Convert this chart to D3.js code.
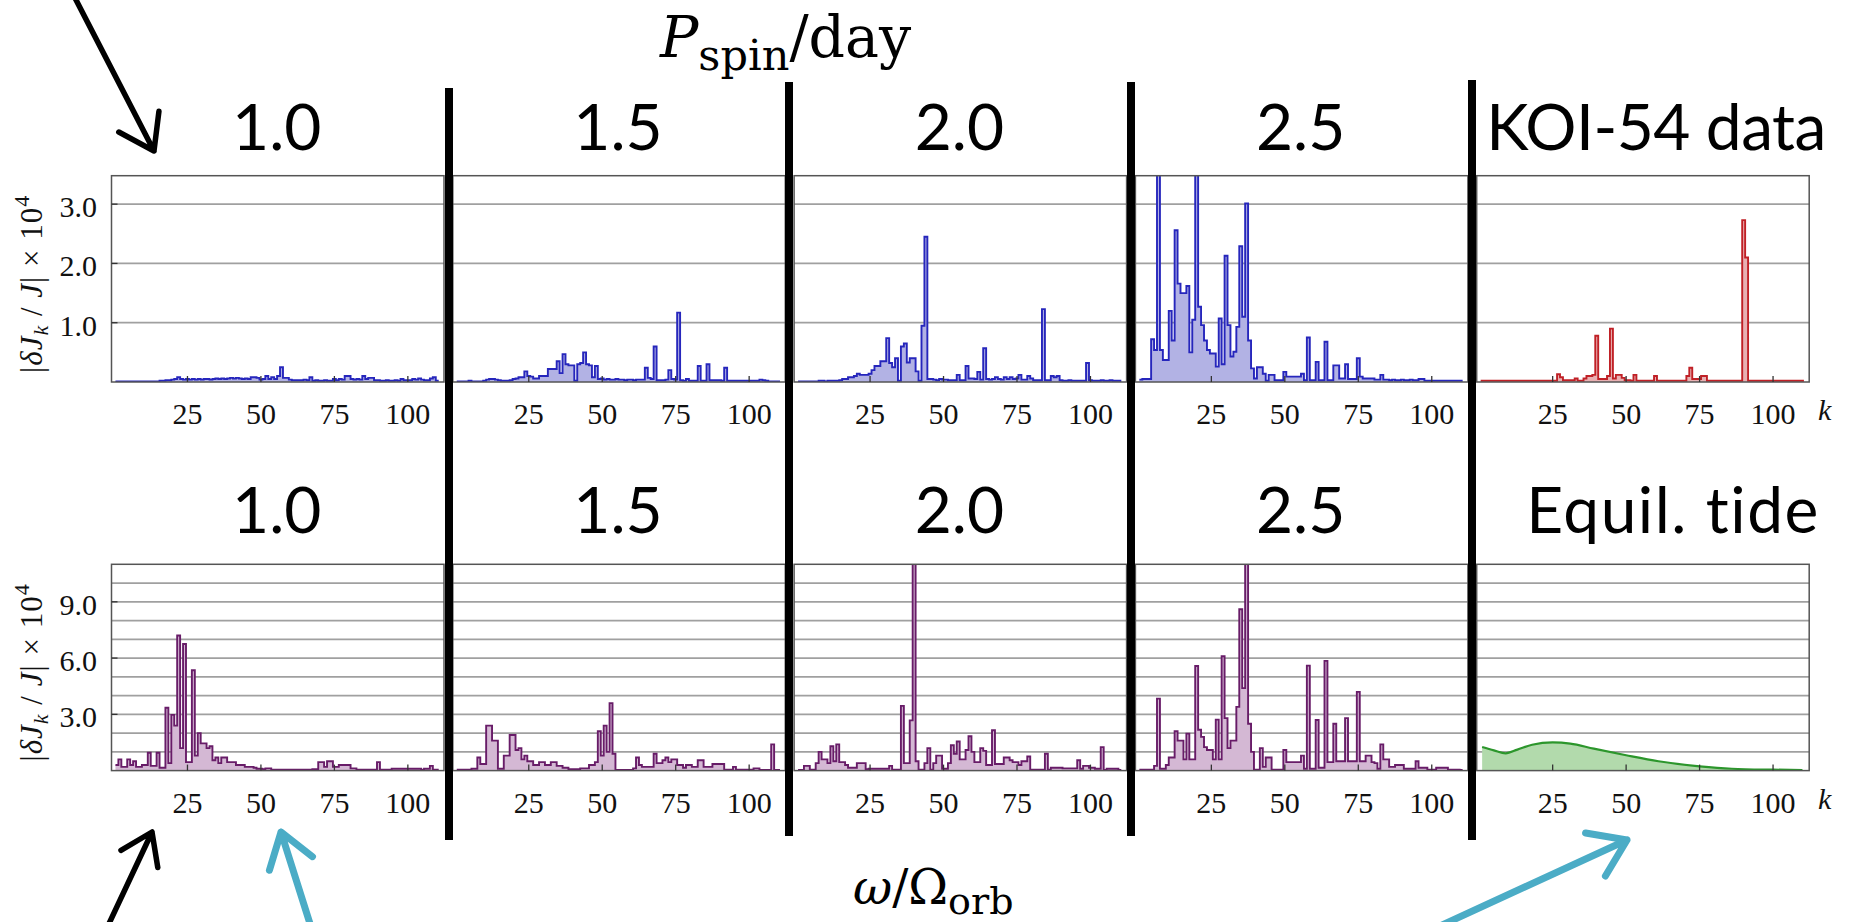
<!DOCTYPE html>
<html><head><meta charset="utf-8">
<script src="https://cdn.jsdelivr.net/npm/d3@7"></script>
<style>body{margin:0;background:#fff}svg{display:block}</style>
</head><body>
<svg id="c" width="1858" height="922"></svg>
<script>
// ---------------- data ----------------
const kTicks = [25, 50, 75, 100];
const spinLabels = ["1.0", "1.5", "2.0", "2.5"];
const topRightLabel = "KOI-54 data";
const bottomRightLabel = "Equil. tide";
const topYTicks = [1, 2, 3];
const topYTickLabels = ["1.0", "2.0", "3.0"];
const botYTicks = [3, 6, 9];
const botYTickLabels = ["3.0", "6.0", "9.0"];
const topGrid = [1, 2, 3];
const botGrid = [1, 2, 3, 4, 5, 6, 7, 8, 9, 10];

// |dJ_k/J| x 1e4 for k = 1..110 (top row: model, P_spin = 1.0,1.5,2.0,2.5 d)
const topP10 = [0.01,0.01,0.01,0.01,0.01,0.01,0.01,0.01,0.01,0.01,0.01,0.01,0.01,0.01,0.01,
0.02,0.02,0.03,0.03,0.04,0.05,0.08,0.05,0.04,0.05,0.04,0.05,0.04,0.05,0.04,0.05,0.05,0.04,0.05,0.06,
0.05,0.06,0.05,0.06,0.07,0.06,0.07,0.06,0.05,0.06,0.05,0.08,0.08,0.07,0.04,0.05,0.1,0.05,0.08,0.05,
0.1,0.25,0.07,0.07,0.04,0.03,0.03,0.03,0.03,0.04,0.03,0.08,0.02,0.03,0.02,0.02,0.03,0.02,0.02,0.05,
0.03,0.05,0.04,0.1,0.1,0.05,0.04,0.05,0.04,0.1,0.05,0.07,0.07,0.03,0.03,0.02,0.02,0.03,0.02,0.02,
0.03,0.02,0.05,0.03,0.03,0.03,0.05,0.04,0.06,0.04,0.03,0.03,0.06,0.08,0.02];
const topP15 = [0.01,0.01,0.01,0.01,0.02,0.01,0.01,0.01,0.01,0.02,0.04,0.05,0.05,0.04,0.03,
0.02,0.02,0.02,0.03,0.05,0.06,0.08,0.08,0.18,0.1,0.09,0.06,0.06,0.1,0.1,0.1,0.22,0.22,0.22,0.35,
0.15,0.47,0.3,0.28,0.28,0.02,0.3,0.32,0.5,0.3,0.28,0.08,0.27,0.05,0.06,
0.04,0.05,0.04,0.04,0.05,0.04,0.04,0.03,0.04,0.04,0.03,0.04,0.04,0.04,
0.24,0.07,0.05,0.6,0.03,0.03,0.03,0.04,0.2,0.05,0.04,1.17,0.03,0.02,0.05,0.02,0.02,0.02,0.27,0.02,
0.02,0.3,0.03,0.03,0.03,0.03,0.02,0.24,0.02,0.02,0.02,0.02,0.02,0.02,0.02,0.02,0.02,0.02,0.02,0.04,
0.03,0.02,0.01,0.01,0.01,0.01];
const topP20 = [0.01,0.01,0.01,0.01,0.01,0.01,0.01,0.02,0.02,0.01,0.02,0.02,0.02,0.02,0.03,
0.05,0.05,0.08,0.08,0.1,0.14,0.12,0.12,0.12,0.14,0.2,0.27,0.27,0.35,0.35,0.74,0.32,0.25,0.4,0.02,
0.6,0.65,0.33,0.4,0.4,0.18,0.02,0.95,2.45,0.05,0.05,0.04,0.03,0.05,0.04,0.04,0.03,0.03,0.03,0.12,
0.03,0.03,0.27,0.06,0.06,0.05,0.17,0.04,0.57,0.05,0.04,0.05,0.08,0.05,0.04,0.08,0.05,0.08,0.05,0.06,
0.12,0.04,0.04,0.1,0.06,0.03,0.03,0.03,1.23,0.03,0.03,0.1,0.08,0.1,0.03,
0.02,0.02,0.03,0.02,0.02,0.02,0.02,0.02,0.32,0.03,
0.02,0.02,0.02,0.03,0.02,0.02,0.03,0.02,0.02,0.02];
const topP25 = [0.04,0.05,0.05,0.05,0.72,0.54,4.0,0.54,0.37,0.37,1.2,0.7,2.56,1.66,1.5,
1.5,1.62,0.5,1.05,4.0,1.27,0.96,0.7,0.54,0.48,0.48,0.26,1.07,0.3,2.13,0.96,0.43,0.51,0.93,2.29,
1.1,3.01,0.7,0.23,0.06,0.25,0.25,0.14,0.02,0.12,0.12,0.03,0.03,0.03,0.17,0.09,0.09,0.09,0.09,0.09,
0.14,0.03,0.75,0.03,0.03,0.34,0.03,0.03,0.68,0.03,0.03,0.28,0.28,0.06,0.06,0.3,0.05,0.05,0.05,0.4,
0.09,0.06,0.06,0.06,0.06,0.04,0.04,0.12,0.04,0.04,0.03,0.04,0.03,0.03,0.04,0.03,0.03,0.04,0.03,0.03,
0.05,0.05,0.02,0.02,0.02,0.02,0.02,0.02,0.02,0.02,0.02,0.02,0.02,0.02,0.02];
// observed KOI-54
const topKOI = [0.02,0.02,0.02,0.02,0.02,0.02,0.02,0.02,0.02,0.02,0.02,0.02,0.02,0.02,0.02,
0.02,0.02,0.02,0.02,0.02,0.02,0.02,0.02,0.02,0.02,0.02,
0.13,0.08,0.03,0.03,0.03,0.03,0.06,0.02,0.02,0.06,0.1,0.1,0.12,0.78,0.05,0.05,0.05,0.1,0.9,
0.06,0.12,0.12,0.07,0.03,0.03,0.02,0.12,0.02,0.02,0.02,0.02,0.02,0.02,0.1,
0.02,0.02,0.02,0.02,0.02,0.02,0.02,0.02,0.02,0.02,0.1,0.24,0.05,0.05,0.05,0.1,0.1,
0.02,0.02,0.02,0.02,0.02,0.02,0.02,0.02,0.02,0.02,0.02,0.02,2.73,2.1,
0.02,0.02,0.02,0.02,0.02,0.02,0.02,0.02,0.02,0.02,0.02,0.02,0.02,0.02,0.02,0.02,0.02,0.02,0.02];

// bottom row
const botP10 = [0.3,0.6,0.2,0.2,0.6,0.3,0.5,0.2,0.2,0.3,0.3,0.95,0.25,0.25,0.95,
0.15,0.15,3.35,0.4,2.97,2.4,7.2,1.2,6.75,0.45,0.45,5.35,0.8,2.0,1.45,1.45,1.2,1.3,0.55,0.7,
0.4,0.7,0.7,0.45,0.45,0.45,0.3,0.3,0.3,0.2,0.2,0.2,0.15,0.1,0.1,0.08,0.12,0.12,
0.05,0.05,0.05,0.05,0.05,0.05,0.05,0.05,0.05,0.05,0.05,0.05,0.05,0.05,
0.08,0.08,0.45,0.45,0.2,0.5,0.5,0.2,0.2,0.3,0.3,0.3,0.3,0.12,0.12,
0.05,0.05,0.05,0.05,0.05,0.05,0.05,0.45,0.05,0.05,0.05,0.05,
0.1,0.1,0.1,0.1,0.1,0.1,0.1,0.1,0.1,0.1,0.05,0.1,0.1,0.25,0.05,0.05];
const botP15 = [0.05,0.05,0.05,0.05,0.05,0.1,0.1,0.7,0.35,0.35,2.4,2.4,1.6,1.6,0.1,
0.1,0.8,0.8,1.9,1.9,1.1,1.2,0.6,0.8,0.5,0.5,0.3,0.3,0.45,0.45,0.3,0.3,0.45,0.45,0.25,
0.25,0.15,0.15,0.07,0.07,0.07,0.07,0.12,0.12,0.12,0.3,0.3,0.45,2.1,0.8,2.4,1.0,3.6,0.9,0.03,
0.03,0.03,0.03,0.03,0.03,0.12,0.7,0.3,0.2,0.2,0.2,0.2,0.9,0.4,0.4,0.55,0.7,0.45,0.6,0.6,
0.3,0.3,0.15,0.3,0.3,0.2,0.2,0.55,0.55,0.2,0.2,0.2,0.35,0.35,0.35,0.35,0.05,0.05,0.05,0.2,
0.05,0.05,0.05,0.05,0.05,0.05,0.12,0.12,0.03,0.03,0.03,0.03,1.4,0.03,0.03];
const botP20 = [0.03,0.03,0.25,0.25,0.05,0.05,0.4,1.0,0.6,0.6,0.4,1.3,0.5,1.4,0.45,
0.45,0.3,0.15,0.15,0.15,0.4,0.4,0.4,0.08,0.1,0.1,0.1,0.1,0.1,0.1,0.1,0.25,0.05,0.05,0.05,
3.45,0.4,0.4,2.68,11.5,0.5,0.05,0.05,0.4,1.2,0.05,0.4,0.8,0.8,0.1,0.1,0.4,1.35,0.9,1.55,
0.6,0.6,1.1,1.83,1.0,0.45,0.45,1.2,1.05,0.3,0.3,2.15,0.35,0.35,0.35,0.7,0.7,0.55,0.45,0.45,
0.3,0.5,0.5,0.75,0.05,0.05,0.05,0.05,0.05,0.9,0.05,0.15,0.15,0.15,0.15,0.12,0.12,0.12,0.12,0.12,
0.55,0.1,0.25,0.25,0.15,0.15,0.1,0.1,1.25,0.03,0.1,0.1,0.1,0.1,0.03];
const botP25 = [0.05,0.05,0.05,0.05,0.05,0.25,3.84,0.1,0.1,0.3,0.7,0.7,2.1,1.6,1.6,
0.6,1.97,0.6,0.6,5.58,2.18,1.8,1.25,1.1,1.1,0.6,2.72,0.6,6.1,2.8,1.2,1.6,1.6,3.4,8.6,
4.4,11.5,2.5,1.0,0.05,0.05,1.2,0.2,0.7,0.7,0.05,0.05,0.05,0.05,1.1,0.45,0.45,0.45,0.45,0.45,
0.8,0.1,5.6,0.1,0.1,2.7,0.15,0.15,5.85,0.45,0.45,2.5,0.5,0.5,0.5,2.8,0.5,0.5,0.5,4.2,
0.5,0.5,0.8,0.8,0.45,0.4,0.1,1.4,0.6,0.6,0.2,0.2,0.3,0.3,0.3,0.1,0.1,0.1,0.1,0.5,
0.15,0.15,0.15,0.05,0.05,0.05,0.15,0.15,0.15,0.15,0.05,0.05,0.05,0.05,0.03];
// equilibrium tide: sampled points [k, value]
const equilK = [1, 5, 9, 13, 18, 25, 31, 39, 50, 61, 75, 86, 100, 110];
const equilV = [1.26, 1.08, 0.92, 1.12, 1.38, 1.5, 1.44, 1.17, 0.82, 0.5, 0.23, 0.1, 0.05, 0.03];

// ---------------- drawing ----------------
const svg = d3.select("#c");
const defs = svg.append("defs");
const COL = {
  blue:   {s: "rgb(38,38,188)",  f: "rgb(178,178,228)"},
  red:    {s: "rgb(192,32,38)",  f: "rgb(232,176,178)"},
  purple: {s: "rgb(104,28,104)", f: "rgb(212,184,212)"},
  green:  {s: "rgb(44,150,44)",  f: "rgb(178,218,172)"}
};
const panelLeft = i => 111.5 + 341.3 * i;
const panelW = 332.5;
const rows = [
  {top: 175.7, zero: 382, max: 3.48, grid: topGrid, yt: topYTicks, ytl: topYTickLabels,
   series: [topP10, topP15, topP20, topP25, topKOI], cols: ["blue","blue","blue","blue","red"],
   tickBase: 424, kBase: 420},
  {top: 564.3, zero: 770.6, max: 11, grid: botGrid, yt: botYTicks, ytl: botYTickLabels,
   series: [botP10, botP15, botP20, botP25, null], cols: ["purple","purple","purple","purple","green"],
   tickBase: 813, kBase: 809}
];
const serif = "'Liberation Serif', 'Times New Roman', serif";
const sans = "Lato, 'Open Sans', sans-serif";

rows.forEach((row, r) => {
  const y = d3.scaleLinear().domain([0, row.max]).range([row.zero, row.top]);
  for (let i = 0; i < 5; i++) {
    const x = d3.scaleLinear().domain([-0.85, 112.3]).range([panelLeft(i), panelLeft(i) + panelW]);
    const g = svg.append("g");
    const cid = `clip${r}${i}`;
    defs.append("clipPath").attr("id", cid).append("rect")
      .attr("x", x(-0.85)).attr("y", row.top).attr("width", panelW).attr("height", row.zero - row.top);
    g.selectAll("line.grid").data(row.grid).join("line")
      .attr("x1", x(-0.85)).attr("x2", x(112.3))
      .attr("y1", d => y(d)).attr("y2", d => y(d))
      .attr("stroke", "#a0a0a0").attr("stroke-width", 1.7);
    const c = COL[row.cols[i]];
    const dg = g.append("g").attr("clip-path", `url(#${cid})`);
    if (row.series[i]) {
      const vals = row.series[i];
      const pts = vals.map((v, j) => [j + 1 - 0.5, v]);
      pts.push([vals.length + 0.5, vals[vals.length - 1]]);
      const area = d3.area().x(d => x(d[0])).y0(y(0)).y1(d => y(d[1])).curve(d3.curveStepAfter);
      const line = d3.line().x(d => x(d[0])).y(d => y(d[1])).curve(d3.curveStepAfter);
      dg.append("path").attr("d", area(pts)).attr("fill", c.f);
      dg.append("path").attr("d", line(pts)).attr("fill", "none").attr("stroke", c.s).attr("stroke-width", 1.9);
    } else {
      const pts = equilK.map((k, j) => [k, equilV[j]]);
      const area = d3.area().x(d => x(d[0])).y0(y(0)).y1(d => y(d[1])).curve(d3.curveMonotoneX);
      const line = d3.line().x(d => x(d[0])).y(d => y(d[1])).curve(d3.curveMonotoneX);
      dg.append("path").attr("d", area(pts)).attr("fill", c.f);
      dg.append("path").attr("d", line(pts)).attr("fill", "none").attr("stroke", c.s).attr("stroke-width", 2.2);
    }
    g.append("rect").attr("x", x(-0.85)).attr("y", row.top).attr("width", panelW).attr("height", row.zero - row.top)
      .attr("fill", "none").attr("stroke", "#555").attr("stroke-width", 1.5);
    g.selectAll("line.xt").data(kTicks).join("line")
      .attr("x1", d => x(d)).attr("x2", d => x(d)).attr("y1", row.zero).attr("y2", row.zero - 6)
      .attr("stroke", "#333").attr("stroke-width", 1.3);
    g.selectAll("text.xt").data(kTicks).join("text")
      .attr("x", d => x(d)).attr("y", row.tickBase).attr("text-anchor", "middle")
      .attr("font-family", serif).attr("font-size", 30).attr("fill", "#111").text(d => d);
    if (i === 0) {
      g.selectAll("line.yt").data(row.yt).join("line")
        .attr("x1", x(-0.85)).attr("x2", x(-0.85) + 6).attr("y1", d => y(d)).attr("y2", d => y(d))
        .attr("stroke", "#333").attr("stroke-width", 1.3);
      g.selectAll("text.yt").data(row.yt).join("text")
        .attr("x", 97).attr("y", d => y(d) + 13).attr("text-anchor", "end")
        .attr("font-family", serif).attr("font-size", 30).attr("fill", "#111")
        .text((d, j) => row.ytl[j]);
      const yc = (row.top + row.zero) / 2 + 5;
      const t = svg.append("text").attr("transform", `translate(42,${yc}) rotate(-90)`)
        .attr("text-anchor", "middle").attr("font-family", serif).attr("font-size", 31)
        .attr("letter-spacing", 1).attr("fill", "#111");
      t.append("tspan").text("|");
      t.append("tspan").attr("font-style", "italic").text("δJ");
      t.append("tspan").attr("font-style", "italic").attr("font-size", 22).attr("dy", 6).text("k");
      t.append("tspan").attr("dy", -6).text(" / ");
      t.append("tspan").attr("font-style", "italic").text("J");
      t.append("tspan").text("| × 10");
      t.append("tspan").attr("font-size", 22).attr("dy", -13).text("4");
    }
    if (i === 4) {
      svg.append("text").attr("x", 1818).attr("y", row.kBase).attr("font-family", serif)
        .attr("font-style", "italic").attr("font-size", 30).attr("fill", "#111").text("k");
    }
  }
  const hy = r === 0 ? 150 : 533;
  spinLabels.forEach((s, i) => {
    svg.append("text").attr("x", panelLeft(i) + panelW / 2 - 1).attr("y", hy).attr("text-anchor", "middle")
      .attr("font-family", sans).attr("font-weight", 400).attr("font-size", 64).attr("fill", "#000").text(s);
  });
  svg.append("text").attr("x", r === 0 ? 1656 : 1673).attr("y", hy).attr("text-anchor", "middle")
    .attr("font-family", sans).attr("font-weight", 400).attr("font-size", 64)
    .attr("letter-spacing", r === 0 ? -0.5 : 1.5).attr("fill", "#000")
    .text(r === 0 ? topRightLabel : bottomRightLabel);
});

// separators
const sepX = [449, 789, 1131, 1472], sepTop = [88, 82, 82, 80], sepBot = [840, 836, 836, 840];
sepX.forEach((sx, i) => {
  svg.append("line").attr("x1", sx).attr("x2", sx).attr("y1", sepTop[i]).attr("y2", sepBot[i])
    .attr("stroke", "#000").attr("stroke-width", 8);
});

// titles
const dv = "'DejaVu Serif', serif";
const t1 = svg.append("text").attr("x", 660).attr("y", 57).attr("font-family", dv).attr("font-size", 57).attr("fill", "#000");
t1.append("tspan").attr("font-style", "italic").text("P");
t1.append("tspan").attr("font-size", 43).attr("dy", 13).text("spin");
t1.append("tspan").attr("dy", -13).text("/day");
const t2 = svg.append("text").attr("x", 853).attr("y", 904).attr("font-family", dv).attr("font-size", 48).attr("fill", "#000");
t2.append("tspan").attr("font-style", "italic").text("ω");
t2.append("tspan").text("/Ω");
t2.append("tspan").attr("font-size", 38).attr("dy", 10).text("orb");

// arrows (annotations)
function arrow(tail, tip, color, w, hl) {
  const a = Math.atan2(tail[1] - tip[1], tail[0] - tip[0]);
  const w1 = [tip[0] + hl * Math.cos(a + 0.6), tip[1] + hl * Math.sin(a + 0.6)];
  const w2 = [tip[0] + hl * Math.cos(a - 0.6), tip[1] + hl * Math.sin(a - 0.6)];
  svg.append("path")
    .attr("d", `M${tail}L${tip}M${w1}L${tip}L${w2}`)
    .attr("fill", "none").attr("stroke", color).attr("stroke-width", w)
    .attr("stroke-linecap", "round").attr("stroke-linejoin", "round");
}
arrow([74, -4], [154, 151], "#000", 5.5, 40);
arrow([106, 930], [152, 832], "#000", 5.5, 36);
arrow([312, 930], [281, 832], "#4BACC6", 7, 40);
arrow([1440, 926], [1627, 840], "#4BACC6", 7, 42);
</script>
</body></html>
